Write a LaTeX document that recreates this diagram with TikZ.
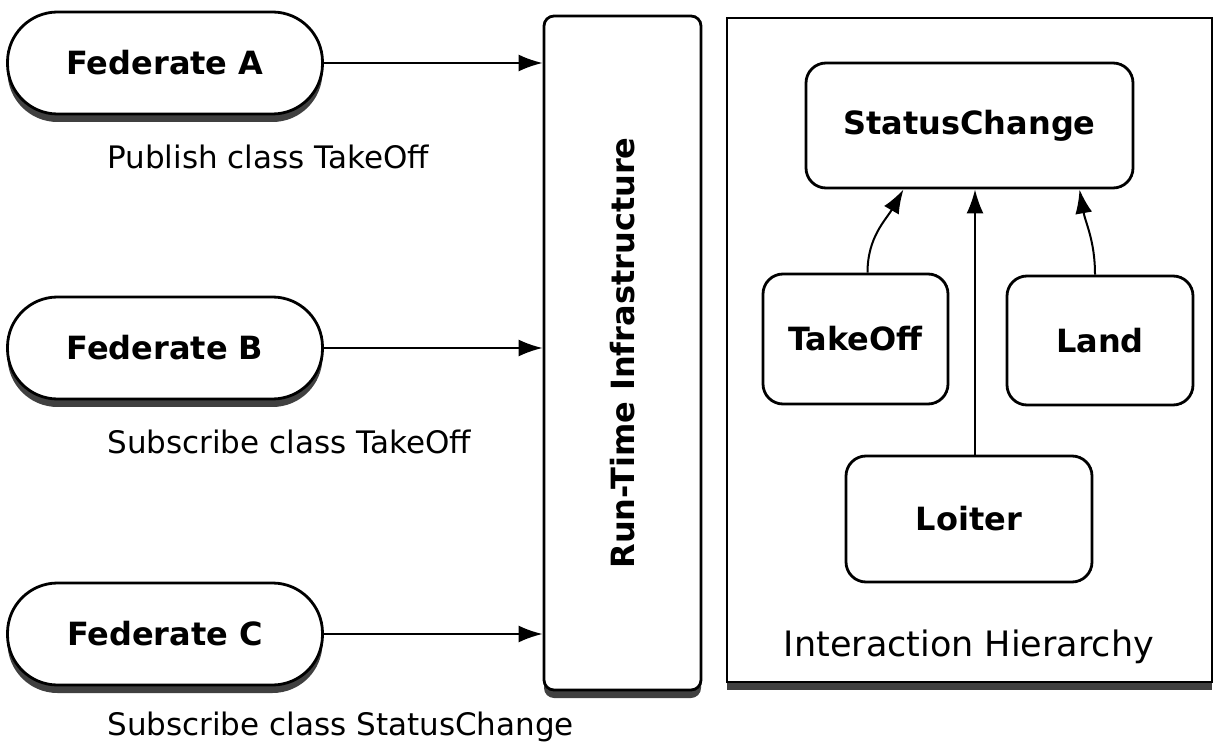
\documentclass[tikz,border=0pt]{standalone}
\usepackage{fontspec}
\setmainfont{DejaVu Sans}
\usetikzlibrary{arrows.meta,shadows}

\begin{document}
\begin{tikzpicture}[x=0.5pt, y=-0.5pt,
  box/.style={draw, line width=1.4pt, fill=white, inner sep=0pt},
  shade/.style={drop shadow={shadow xshift=0pt, shadow yshift=-4pt, fill=black, opacity=0.75}},
  fed/.style={box, shade, rounded corners=25pt, minimum width=157.5pt, minimum height=51pt, font=\fontsize{16}{20}\selectfont\bfseries},
  cls/.style={box, rounded corners=10pt, font=\fontsize{16}{20}\selectfont\bfseries},
  note/.style={anchor=west, inner sep=0pt, font=\fontsize{15.5}{20}\selectfont},
  arr/.style={line width=1pt, -{Latex[length=12pt, width=8.5pt]}}]
\path (0,0) rectangle (1220,748);
\node[fed] (fedA) at (165,63) {Federate A};
\node[fed] (fedB) at (165,348) {Federate B};
\node[fed] (fedC) at (165,634) {Federate C};
\node[note] (pubA) at (107,157) {Publish class TakeOff};
\node[note] (subB) at (107,442) {Subscribe class TakeOff};
\node[note] (subC) at (107,727) {Subscribe class StatusChange};
\node[box, shade, rounded corners=5pt, minimum width=78.5pt, minimum height=337pt] (rti) at (622.5,353) {};
\node[rotate=90, font=\fontsize{16}{20}\selectfont\bfseries] (rtilabel) at (rti.center) {Run-Time Infrastructure};
\node[box, shade, minimum width=242.5pt, minimum height=332pt] (hier) at (969.5,350) {};
\node[font=\fontsize{17.5}{20}\selectfont] (hierlabel) at (969,647) {Interaction Hierarchy};
\node[cls, minimum width=163.5pt, minimum height=62.5pt] (status) at (969.5,125.5) {StatusChange};
\node[cls, minimum width=92.5pt, minimum height=65pt] (takeoff) at (855.5,339) {TakeOff};
\node[cls, minimum width=93pt, minimum height=64.5pt] (land) at (1100,340.5) {Land};
\node[cls, minimum width=123pt, minimum height=63pt] (loiter) at (969,519) {Loiter};
\draw[arr] (fedA.east) -- (fedA.east -| rti.west);
\draw[arr] (fedB.east) -- (fedB.east -| rti.west);
\draw[arr] (fedC.east) -- (fedC.east -| rti.west);
\draw[arr] ([xshift=6pt]takeoff.north) to[out=90, in=-120] ([xshift=-33pt]status.south);
\draw[arr] ([xshift=3pt]loiter.north) -- ([xshift=3pt]loiter.north |- status.south);
\draw[arr] ([xshift=-2.5pt]land.north) to[out=90, in=-80] ([xshift=55pt]status.south);
\end{tikzpicture}
\end{document}
